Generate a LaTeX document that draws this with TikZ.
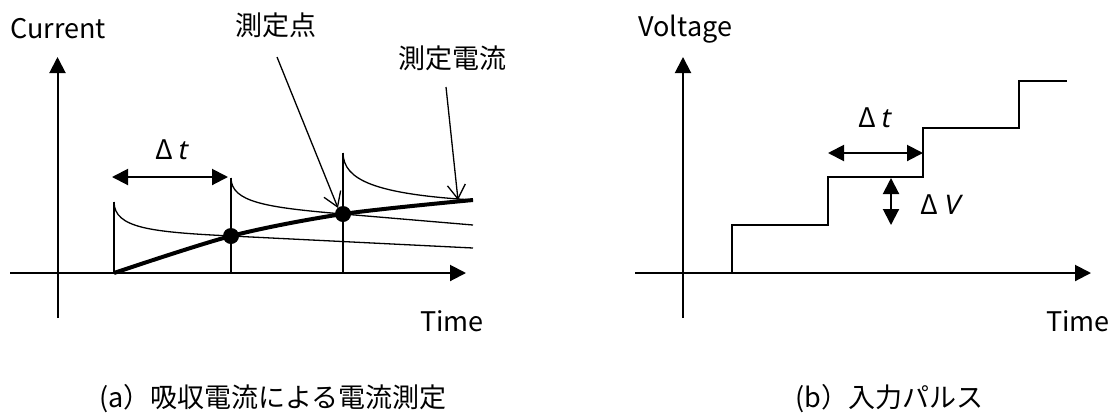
\documentclass[tikz,border=0pt]{standalone}
\usepackage{fontspec}
\setmainfont{Noto Sans CJK JP}
\newfontfamily\latinit{Noto Sans}[AutoFakeSlant=0.2]
\usetikzlibrary{arrows.meta}
\newcommand{\dlt}{Δ\,{\latinit\itshape t}}
\newcommand{\dlV}{Δ\,{\latinit\itshape V}}
\tikzset{
  axisline/.style={line width=1pt,-{Triangle[length=8pt,width=8pt]}},
  plainline/.style={line width=0.8pt},
  decayline/.style={line width=0.65pt},
  thickcurve/.style={line width=2pt},
  dblarrow/.style={line width=1pt,{Triangle[length=8pt,width=8pt]}-{Triangle[length=8pt,width=8pt]}},
  pointer/.style={line width=0.65pt,-{Straight Barb[length=7pt,width=9pt,line width=0.65pt]}},
  lbl/.style={font=\fontsize{13.5pt}{16pt}\selectfont,inner sep=0pt},
  captext/.style={font=\fontsize{13.5pt}{16pt}\selectfont,inner sep=0pt},
  measdot/.style={circle,fill=black,inner sep=0pt,minimum size=8pt}
}
\begin{document}
\begin{tikzpicture}[x=0.5pt,y=-0.5pt]
\useasboundingbox (0,0) rectangle (1118,419);
% ---------- left panel ----------
\coordinate (ayb) at (57.5,318);
\coordinate (ayt) at (57.5,57);
\coordinate (axl) at (10,273);
\coordinate (axr) at (466,273);
\draw[axisline] (ayb) -- (ayt);
\draw[axisline] (axl) -- (axr);
\node[lbl,anchor=west] (cur) at (10,29) {Current};
\node[lbl] (timeA) at (452,321) {Time};
% pulses
\coordinate (p1b) at (114,273); \coordinate (p1t) at (114,202);
\coordinate (p2b) at (231,273); \coordinate (p2t) at (231,178);
\coordinate (p3b) at (343,273); \coordinate (p3t) at (343,153);
\draw[plainline] (p1b) -- (p1t);
\draw[plainline] (p2b) -- (p2t);
\draw[plainline] (p3b) -- (p3t);
% decay curves
\coordinate (m1) at (231,236);
\coordinate (m2) at (343,214);
\coordinate (e1) at (473,248);
\coordinate (e2) at (473,225);
\coordinate (e3) at (473,200);
\draw[decayline] (p1t) .. controls (114.5,228) and (150,232) .. (m1) -- (e1);
\draw[decayline] (p2t) .. controls (231.5,202) and (265,207.4) .. (m2) -- (e2);
\draw[decayline] (p3t) .. controls (343.5,180) and (375,194) .. (e3);
% measured current
\draw[thickcurve] plot[smooth,tension=0.5] coordinates {(114,273) (231,236) (343,214) (473,200)};
\node[measdot] (d1) at (m1) {};
\node[measdot] (d2) at (m2) {};
% delta t
\coordinate (dtl) at (112,177);
\coordinate (dtr) at (228,177);
\draw[dblarrow] (dtl) -- (dtr);
\node[lbl] (dtA) at (171,150) {\dlt};
% pointers
\node[lbl] (sokutei) at (276,25) {測定点};
\node[lbl] (sokuden) at (452,58) {測定電流};
\coordinate (ps) at (277,57);
\coordinate (pe) at (446,87);
\draw[pointer] (ps) -- (338,208);
\draw[pointer] (pe) -- (458,200);
\node[captext,anchor=west] (capA) at (99,399) {(a）吸収電流による電流測定};
% ---------- right panel ----------
\coordinate (byb) at (683,318);
\coordinate (byt) at (683,57);
\coordinate (bxl) at (635,273);
\coordinate (bxr) at (1091,273);
\draw[axisline] (byb) -- (byt);
\draw[axisline] (bxl) -- (bxr);
\node[lbl,anchor=west] (volt) at (638,29) {Voltage};
\node[lbl] (timeB) at (1078,321) {Time};
\draw[plainline] (732,273) -- (732,225) -- (828,225) -- (828,177) -- (923,177) -- (923,128) -- (1019,128) -- (1019,81) -- (1067,81);
\coordinate (btl) at (828,153);
\coordinate (btr) at (923,153);
\draw[dblarrow] (btl) -- (btr);
\node[lbl] (dtB) at (874,118) {\dlt};
\coordinate (bvt) at (891,178);
\coordinate (bvb) at (891,225);
\draw[dblarrow] (bvt) -- (bvb);
\node[lbl] (dvB) at (940,205) {\dlV};
\node[captext,anchor=west] (capB) at (795,399) {(b）入力パルス};
\end{tikzpicture}
\end{document}
